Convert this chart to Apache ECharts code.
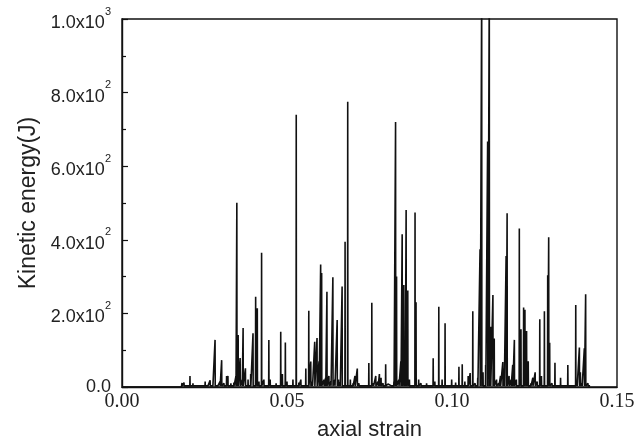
<!DOCTYPE html>
<html>
<head>
<meta charset="utf-8">
<script src="https://cdn.jsdelivr.net/npm/echarts@6/dist/echarts.min.js"></script>
<style>html,body{margin:0;padding:0;background:#fff;}#c{width:644px;height:446px;}</style>
</head>
<body>
<div id="c"></div>
<script>
// Spike positions (axial strain) and peak kinetic energies (J)
var spikeStrain = [
0.01818,0.01879,0.0206,0.0215,0.0227,0.0236,0.0252,0.0261,0.0267,0.0276,
0.0282,0.0291,0.0297,0.0302,0.0309,0.0317,0.0321,0.0330,0.0339,0.0345,
0.0348,0.0352,0.0358,0.0364,0.0367,0.0374,0.0382,0.0390,0.0397,0.0405,
0.0410,0.0415,0.0423,0.0430,0.0436,0.0445,0.0449,0.0458,0.0467,0.0481,
0.0486,0.0495,0.0500,0.0509,0.0518,0.0528,0.0536,0.0542,0.0548,0.0557,
0.0566,0.0572,0.0577,0.0584,0.0591,0.0597,0.0602,0.0605,0.0612,0.0617,
0.0621,0.0627,0.0633,0.0639,0.0645,0.0652,0.0656,0.0661,0.0667,0.0676,
0.0684,0.0692,0.0700,0.0706,0.0713,0.0718,0.0727,0.0736,0.0748,0.0757,
0.0762,0.0769,0.0776,0.0780,0.0785,0.0791,0.0799,0.0806,0.0817,0.0824,
0.0829,0.0832,0.0839,0.0845,0.0849,0.0854,0.0858,0.0861,0.0866,0.0871,
0.0879,0.0888,0.0891,0.0899,0.0906,0.0915,0.0923,0.0933,0.0943,0.0948,
0.0960,0.0970,0.0979,0.0988,0.0999,0.1011,0.1021,0.1031,0.1039,0.1049,
0.1055,0.1063,0.1070,0.1078,0.1085,0.1090,0.1094,0.1102,0.1108,0.1113,
0.1117,0.1124,0.1128,0.1135,0.1142,0.1147,0.1154,0.1158,0.1164,0.1167,
0.1173,0.1179,0.1184,0.1189,0.1195,0.1204,0.1209,0.1217,0.1221,0.1226,
0.1231,0.1239,0.1245,0.1252,0.1258,0.1266,0.1271,0.1280,0.1290,0.1293,
0.1296,0.1303,0.1312,0.1318,0.1329,0.1339,0.1351,0.1361,0.1375,0.1379,
0.1386,0.1389,0.1394,0.1401,0.1405,0.1412,0.1418
];
var spikeEnergy = [
11,12,30,10,6,5,15,8,18,6,
128,8,15,73,10,30,30,10,12,28,
501,141,79,20,160,51,20,35,146,245,
214,15,365,20,8,128,20,8,10,150,
35,121,15,6,20,740,12,20,8,50,
207,69,15,123,133,70,333,310,20,25,
259,30,15,298,20,182,20,12,273,395,
775,20,10,30,50,10,6,8,65,229,
10,30,15,35,25,10,62,8,8,15,
720,300,20,70,415,277,60,481,262,20,
8,474,230,20,10,6,10,8,78,15,
218,20,173,8,20,12,55,62,15,30,
38,206,10,25,374,1100,40,60,667,1100,
164,250,132,20,10,30,68,50,356,472,
30,20,60,128,20,431,157,216,210,152,
70,10,25,40,15,184,30,206,304,407,
120,10,66,8,25,6,60,8,223,15,
107,40,10,105,252,10,5
];
var baselineEnergy = 3;
var xTickLabels = ['0.00', '0.05', '0.10', '0.15'];
var yTickMantissa = ['0.0', '2.0', '4.0', '6.0', '8.0', '1.0'];
var yTickExponent = ['', '2', '2', '2', '2', '3'];

var lineData = [[0, 0], [0.0180, 0]];
for (var i = 0; i < spikeStrain.length; i++) {
  lineData.push([spikeStrain[i] - 0.00005, baselineEnergy]);
  lineData.push([spikeStrain[i], spikeEnergy[i]]);
  lineData.push([spikeStrain[i] + 0.00005, baselineEnergy]);
}

var chart = echarts.init(document.getElementById('c'), null, {renderer: 'canvas'});
chart.setOption({
  animation: false,
  backgroundColor: '#ffffff',
  grid: {left: 122, right: 27, top: 19, bottom: 59, show: true, borderColor: '#111', borderWidth: 1.4, containLabel: false},
  xAxis: {
    type: 'value', min: 0, max: 0.15, interval: 0.05,
    axisLine: {show: true, lineStyle: {color: '#111', width: 1.4}},
    axisTick: {show: false},
    splitLine: {show: false},
    axisLabel: {
      color: '#222', fontFamily: 'Liberation Serif', fontSize: 20, margin: 5,
      formatter: function (v) { return xTickLabels[Math.round(v / 0.05)]; }
    },
    name: 'axial strain', nameLocation: 'middle', nameGap: 32,
    nameTextStyle: {color: '#222', fontFamily: 'Liberation Sans', fontSize: 22}
  },
  yAxis: {
    type: 'value', min: 0, max: 1000, interval: 200,
    axisLine: {show: true, lineStyle: {color: '#111', width: 1.4}},
    axisTick: {show: true, inside: true, length: 6, lineStyle: {color: '#111', width: 1.2}},
    minorTick: {show: true, splitNumber: 2, length: 4, lineStyle: {color: '#111', width: 1.2}},
    splitLine: {show: false},
    axisLabel: {
      color: '#222', margin: 11,
      formatter: function (v) {
        var k = Math.round(v / 200);
        if (!yTickExponent[k]) return '{m|' + yTickMantissa[k] + '}';
        return '{b|' + yTickMantissa[k] + 'x10}{s|' + yTickExponent[k] + '}';
      },
      rich: {
        m: {fontFamily: 'Liberation Sans', fontSize: 18, color: '#222'},
        b: {fontFamily: 'Liberation Sans', fontSize: 18, color: '#222', lineHeight: 26, verticalAlign: 'bottom'},
        s: {fontFamily: 'Liberation Sans', fontSize: 11, color: '#222', lineHeight: 26, verticalAlign: 'top'}
      }
    },
    name: 'Kinetic energy(J)', nameLocation: 'middle', nameGap: 79,
    nameTextStyle: {color: '#222', fontFamily: 'Liberation Sans', fontSize: 23}
  },
  series: [{
    type: 'line', data: lineData, showSymbol: false, symbol: 'none',
    lineStyle: {color: '#111', width: 1.6}, clip: true
  }]
});
</script>
</body>
</html>
